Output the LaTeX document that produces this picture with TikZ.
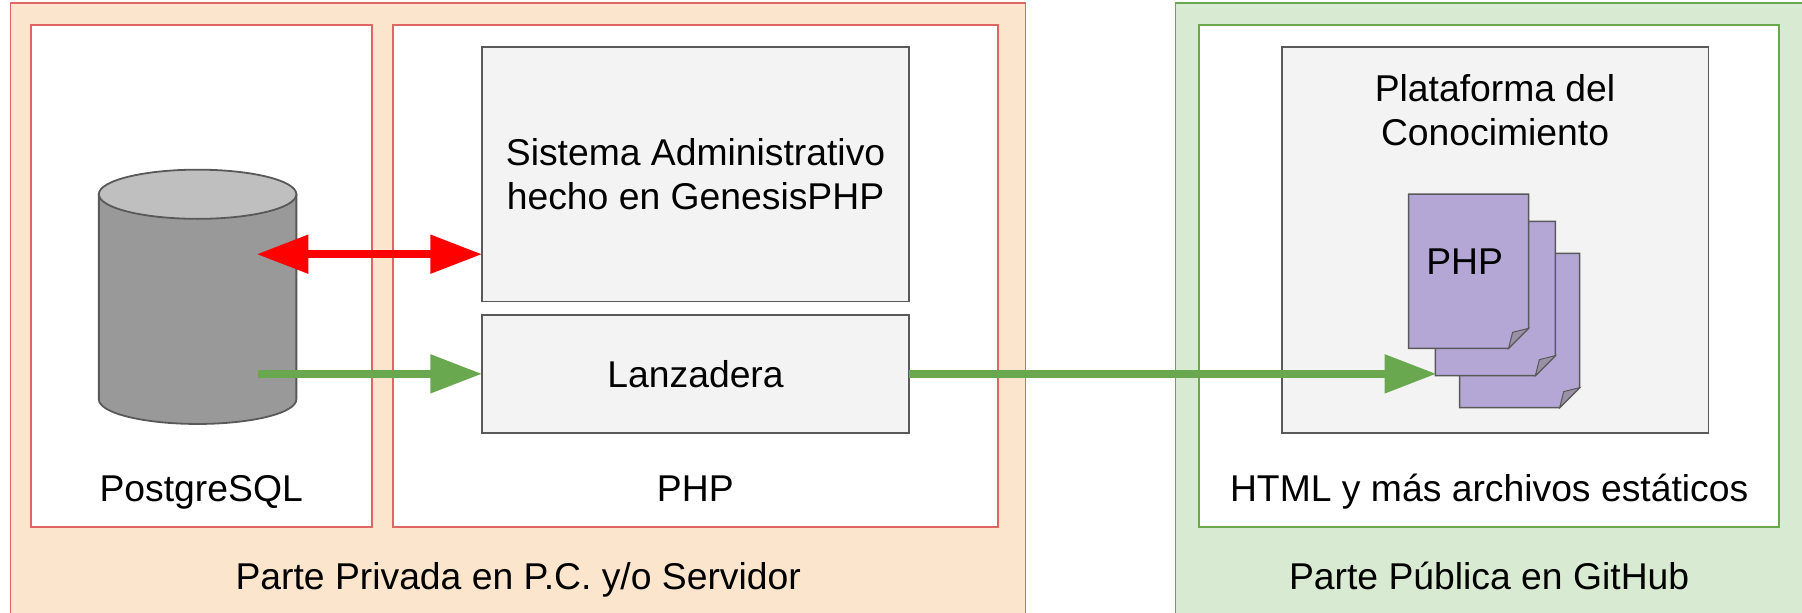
\documentclass[tikz,border=0pt]{standalone}
\usepackage{fontspec}
\setmainfont{Liberation Sans}
\usepackage{tikz}
\usetikzlibrary{positioning, arrows.meta}
\definecolor{prvfill}{HTML}{FCE5CD}
\definecolor{prvline}{HTML}{E06666}
\definecolor{pubfill}{HTML}{D9EAD3}
\definecolor{publine}{HTML}{6AA84F}
\definecolor{boxfill}{HTML}{F3F3F3}
\definecolor{boxline}{HTML}{595959}
\definecolor{pagefill}{HTML}{B4A7D6}
\definecolor{flapfill}{HTML}{9A90A8}

\begin{document}
\begin{tikzpicture}

	\tikzstyle{every node}=[font=\fontsize{37.3}{43.8}\selectfont,outer sep=0pt,inner sep=0pt] %letra grande
	\clip (0,0) rectangle (1802pt,-613pt);

	\tikzstyle{outerbox} = [draw,line width=1.5pt,anchor=north west,minimum height=640pt]
	\tikzstyle{innerbox} = [draw,line width=2pt,fill=white,minimum height=502.4pt]
	\tikzstyle{greybox} = [draw=boxline,line width=1.8pt,fill=boxfill]
	\tikzstyle{title} = [anchor=base,align=center]
	\tikzstyle{page} = [minimum width=120pt,minimum height=154.3pt,anchor=north west]

	\node[outerbox, draw=prvline, fill=prvfill, minimum width=1015pt] at (10.7pt,-3pt) (prvt) {};
	\node[outerbox, draw=publine, fill=pubfill, minimum width=660pt, right = 150pt of prvt] (pblc) {};

	\node[innerbox, draw=prvline, minimum width=341pt, below right = 21.6pt and 20pt of prvt.north west] (pgbx) {};
	\node[innerbox, draw=prvline, minimum width=605.2pt, right = 21pt of pgbx] (phpb) {};
	\node[innerbox, draw=publine, minimum width=579.5pt, below right = 21.6pt and 23.7pt of pblc.north west] (webb) {};

	\node[greybox, minimum width=426.9pt, minimum height=254.4pt, align=center, below right = 22.4pt and 89.4pt of phpb.north west] (admn) {Sistema Administrativo \\ hecho en GenesisPHP};
	\node[greybox, minimum width=426.9pt, minimum height=118.3pt, below = 13.3pt of admn] (lanz) {Lanzadera};
	\node[greybox, minimum width=426.9pt, minimum height=386pt, below right = 22.4pt and 82.2pt of webb.north west] (plat) {};

	\node[minimum width=197.5pt, minimum height=254.3pt] at ([xshift=-3.6pt,yshift=-21pt]pgbx.center) (dbas) {};
	\draw[draw=boxline, line width=1.8pt, fill=black!40] ([yshift=-24.6pt]dbas.north west) -- ([yshift=24.6pt]dbas.south west) arc[start angle=180, end angle=360, x radius=98.75pt, y radius=24.6pt] -- ([yshift=-24.6pt]dbas.north east) -- cycle;
	\draw[draw=boxline, line width=1.8pt, fill=black!25] ([yshift=-24.6pt]dbas.north) ellipse [x radius=98.75pt, y radius=24.6pt];

	\node[title, above = 25.6pt of pgbx.south, anchor=base] (pgtx) {PostgreSQL};
	\node[title, above = 25.6pt of phpb.south, anchor=base] (phtx) {PHP};
	\node[title, above = 25.6pt of webb.south, anchor=base] (httx) {HTML y más archivos estáticos};
	\node[title, below = 62.3pt of pgbx.south -| prvt.south, anchor=base] (prtx) {Parte Privada en P.C. y/o Servidor};
	\node[title, below = 62.3pt of webb.south, anchor=base] (putx) {Parte Pública en GitHub};
	\node[below = 27.5pt of plat.north, align=center] (pltx) {Plataforma del \\ Conocimiento};

	\node[page, below right = 206.3pt and 178.1pt of plat.north west] (docb) {};
	\node[page] at ([xshift=-24.3pt,yshift=32pt]docb.north west) (docm) {};
	\node[page] at ([xshift=-26.8pt,yshift=27.3pt]docm.north west) (docf) {};
	\foreach \nm in {docb,docm,docf} {
		\draw[draw=boxline, line width=1.5pt, fill=pagefill] (\nm.north west) -- (\nm.north east) -- ([yshift=20pt]\nm.south east) -- ([xshift=-20pt]\nm.south east) -- (\nm.south west) -- cycle;
		\draw[draw=boxline, line width=1pt, fill=flapfill] ([yshift=20pt]\nm.south east) -- ([xshift=-16pt,yshift=16pt]\nm.south east) -- ([xshift=-20pt]\nm.south east) -- cycle;
	}
	\node[title] at ([xshift=-4pt,yshift=-3.8pt]docf.center) (doct) {PHP};

	\tikzstyle{arrow} = [line width=8pt,-{Triangle[length=51.7pt,width=37pt]}]
	\coordinate (admr) at ([yshift=-80pt]admn.west);
	\coordinate (dbrd) at ([xshift=59pt]dbas.center |- admr);
	\coordinate (dbgr) at ([xshift=60pt]dbas.center |- lanz);
	\coordinate (docg) at ([xshift=1pt]lanz.east -| docm.west);
	\draw[line width=8pt, red, {Triangle[length=51.7pt,width=37pt]}-{Triangle[length=51.7pt,width=37pt]}] (dbrd) -- (admr);
	\draw[arrow, publine] (dbgr) -- (lanz);
	\draw[arrow, publine] (lanz.east) -- (docg);

\end{tikzpicture}
\end{document}
